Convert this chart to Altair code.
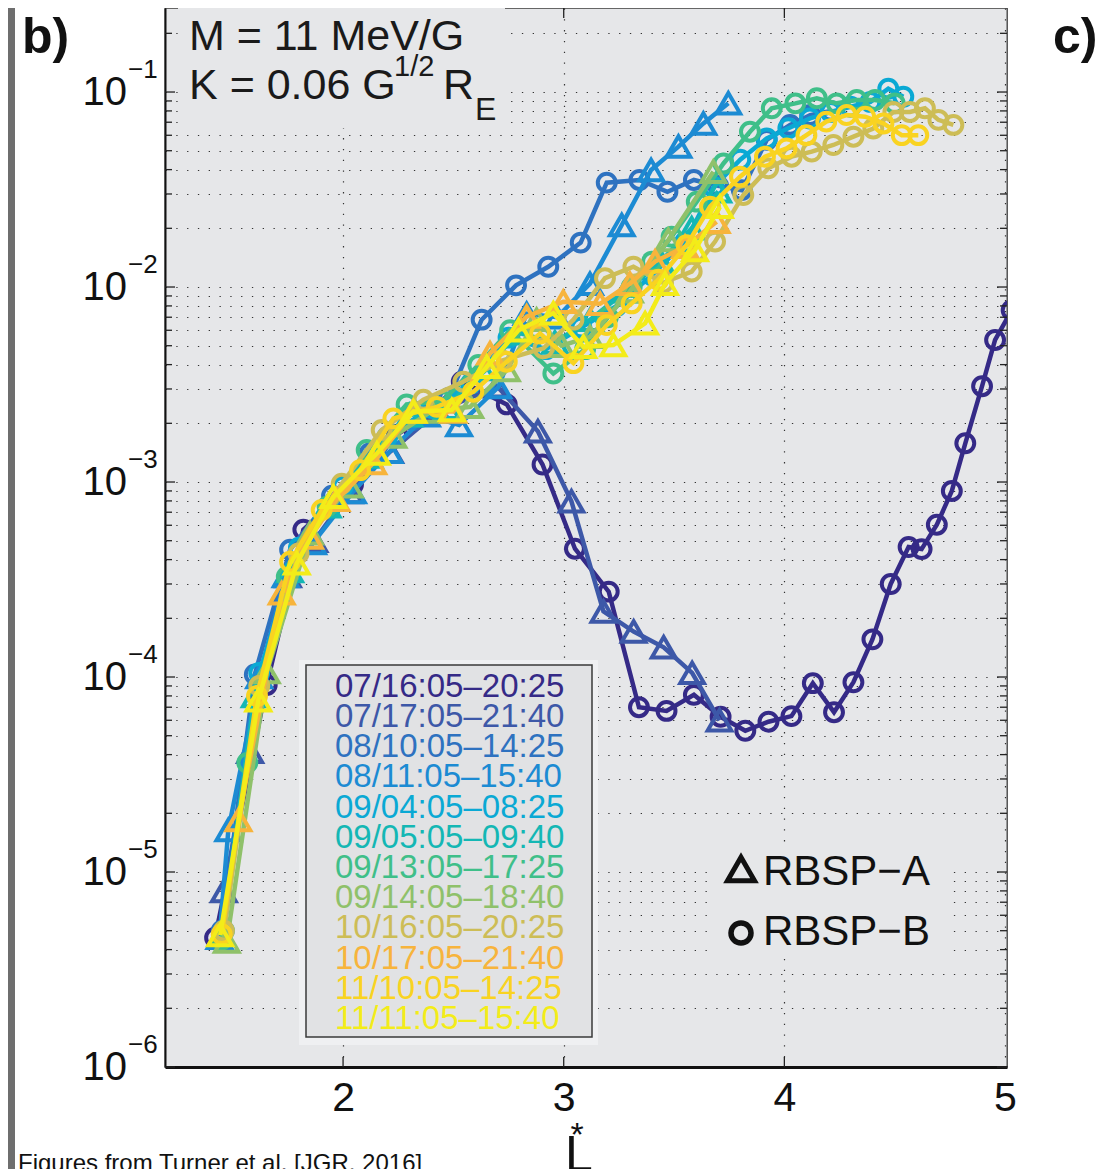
import altair as alt
import pandas as pd

# ------------------------------------------------------------------ data
series_labels = ["07/16:05–20:25", "07/17:05–21:40", "08/10:05–14:25", "08/11:05–15:40",
                 "09/04:05–08:25", "09/05:05–09:40", "09/13:05–17:25", "09/14:05–18:40",
                 "10/16:05–20:25", "10/17:05–21:40", "11/10:05–14:25", "11/11:05–15:40"]
series_colors = ["#352a87", "#3d58a8", "#2e72c0", "#1c8bd3", "#0aa9d4", "#14b7b4",
                 "#3fbf89", "#8fc16a", "#cdbd56", "#f7b43c", "#f9d321", "#f3ec19"]
spacecraft = ["B", "A", "B", "A", "B", "A", "B", "A", "B", "A", "B", "A"]

L_0716 = [1.42, 1.654, 1.82, 2.045, 2.245, 2.40, 2.538, 2.742, 2.904, 3.051, 3.204, 3.341, 3.466,
          3.59, 3.711, 3.823, 3.928, 4.032, 4.129, 4.225, 4.313, 4.399, 4.482, 4.563, 4.622, 4.691,
          4.759, 4.82, 4.896, 4.955, 5.03]
psd_0716 = [4.6e-6, 9.1e-5, 5.7e-4, 9.7e-4, 1.75e-3, 2.3e-3, 3.27e-3, 2.5e-3, 1.23e-3, 4.55e-4,
            2.74e-4, 7.0e-5, 6.7e-5, 8.1e-5, 6.25e-5, 5.3e-5, 5.9e-5, 6.3e-5, 9.3e-5, 6.6e-5,
            9.4e-5, 1.56e-4, 3.0e-4, 4.64e-4, 4.53e-4, 6.04e-4, 9.0e-4, 1.58e-3, 3.1e-3, 5.35e-3, 7.6e-3]

L_0717 = [1.46, 1.579, 1.75, 1.87, 2.03, 2.213, 2.43, 2.698, 2.883, 3.035, 3.18, 3.317, 3.453, 3.582, 3.706]
psd_0717 = [8e-6, 4.14e-5, 3.3e-4, 5.0e-4, 8.9e-4, 1.43e-3, 2.3e-3, 3.1e-3, 1.82e-3, 7.96e-4,
            2.17e-4, 1.71e-4, 1.42e-4, 1.05e-4, 6.0e-5]

L_0810 = [1.45, 1.60, 1.76, 1.95, 2.12, 2.317, 2.48, 2.628, 2.784, 2.93, 3.077, 3.195, 3.343, 3.47,
          3.59, 3.70, 3.807, 3.92, 4.026, 4.117, 4.21]
psd_0810 = [5e-6, 1.03e-4, 4.5e-4, 8.5e-4, 1.4e-3, 2.08e-3, 2.7e-3, 6.8e-3, 1.02e-2, 1.27e-2,
            1.69e-2, 3.43e-2, 3.54e-2, 3.08e-2, 3.54e-2, 3.3e-2, 3.14e-2, 5.68e-2, 6.78e-2, 7.62e-2, 8.0e-2]

L_0811 = [1.44, 1.48, 1.62, 1.74, 1.864, 2.045, 2.21, 2.38, 2.526, 2.704, 2.832, 2.97, 3.119, 3.263,
          3.396, 3.52, 3.633, 3.746]
psd_0811 = [4.6e-6, 1.64e-5, 1.0e-4, 3.3e-4, 4.87e-4, 8.9e-4, 1.43e-3, 2.2e-3, 1.96e-3, 3.07e-3,
            7.3e-3, 7.0e-3, 1.04e-2, 2.08e-2, 3.98e-2, 5.25e-2, 6.9e-2, 8.75e-2]

L_0904 = [1.46, 1.62, 1.80, 2.0, 2.2, 2.4, 2.58, 2.75, 2.92, 3.08, 3.24, 3.40, 3.55, 3.68, 3.80,
          3.92, 4.018, 4.116, 4.21, 4.30, 4.39, 4.471, 4.539]
psd_0904 = [5e-6, 1.05e-4, 4.6e-4, 9.5e-4, 1.7e-3, 2.4e-3, 3.2e-3, 5.5e-3, 4.8e-3, 6.2e-3, 8.0e-3,
            1.15e-2, 1.7e-2, 3.26e-2, 4.5e-2, 5.78e-2, 6.52e-2, 7.32e-2, 7.9e-2, 8.4e-2, 8.9e-2, 0.104, 0.0946]

L_0905 = [1.45, 1.60, 1.76, 1.93, 2.12, 2.30, 2.47, 2.63, 2.80, 2.96, 3.12, 3.28, 3.44, 3.58, 3.70]
psd_0905 = [4.8e-6, 8e-5, 3.5e-4, 7.5e-4, 1.35e-3, 2.2e-3, 2.4e-3, 3.8e-3, 5.8e-3, 5.2e-3, 6.8e-3,
            9.5e-3, 1.35e-2, 2.0e-2, 3.1e-2]

L_0913 = [1.45, 1.566, 1.745, 1.93, 2.107, 2.288, 2.45, 2.613, 2.757, 2.953, 3.097, 3.2, 3.308, 3.40,
          3.489, 3.603, 3.724, 3.844, 3.943, 4.05, 4.147, 4.237, 4.328, 4.411, 4.50]
psd_0913 = [4.5e-6, 3.63e-5, 3.27e-4, 7.5e-4, 1.46e-3, 2.5e-3, 2.6e-3, 3.98e-3, 6.0e-3, 3.6e-3,
            4.8e-3, 7.0e-3, 1.0e-2, 1.35e-2, 1.81e-2, 2.74e-2, 4.3e-2, 6.26e-2, 8.25e-2, 8.75e-2,
            9.29e-2, 8.75e-2, 9.1e-2, 9.1e-2, 8.75e-2]

L_0914 = [1.473, 1.654, 1.85, 2.03, 2.228, 2.40, 2.576, 2.742, 2.877, 2.99, 3.119, 3.30, 3.474, 3.678]
psd_0914 = [4.4e-6, 1.06e-4, 5.46e-4, 9.5e-4, 1.71e-3, 2.3e-3, 2.43e-3, 3.75e-3, 6.8e-3, 5.0e-3,
            5.55e-3, 9.5e-3, 1.74e-2, 3.9e-2]

L_1016 = [1.46, 1.62, 1.798, 1.994, 2.175, 2.364, 2.545, 2.72, 2.908, 3.044, 3.187, 3.316, 3.45,
          3.58, 3.686, 3.814, 3.927, 4.033, 4.124, 4.222, 4.313, 4.403, 4.494, 4.569, 4.637, 4.698, 4.766]
psd_1016 = [5e-6, 9e-5, 4.3e-4, 9.8e-4, 1.85e-3, 2.64e-3, 3.27e-3, 4.2e-3, 4.85e-3, 6.8e-3, 1.11e-2,
            1.27e-2, 1.05e-2, 1.2e-2, 1.71e-2, 2.96e-2, 4.06e-2, 4.66e-2, 4.95e-2, 5.35e-2, 5.9e-2,
            6.5e-2, 7.9e-2, 7.9e-2, 8.25e-2, 7.2e-2, 6.78e-2]

L_1017 = [1.526, 1.722, 1.85, 1.97, 2.137, 2.317, 2.5, 2.666, 2.832, 2.998, 3.165, 3.30, 3.414, 3.55, 3.693]
psd_1017 = [1.85e-5, 2.69e-4, 5.2e-4, 8.1e-4, 1.25e-3, 2.3e-3, 2.3e-3, 4.57e-3, 7.05e-3, 8.4e-3,
            8.2e-3, 1.04e-2, 1.35e-2, 1.61e-2, 2.16e-2]

L_1110 = [1.45, 1.61, 1.76, 1.903, 2.077, 2.228, 2.425, 2.59, 2.742, 2.893, 3.044, 3.195, 3.308,
          3.429, 3.557, 3.663, 3.799, 3.912, 4.01, 4.10, 4.19, 4.282, 4.366, 4.449, 4.532, 4.607]
psd_1110 = [4.8e-6, 8e-5, 3.9e-4, 7.18e-4, 1.15e-3, 2.12e-3, 2.43e-3, 2.9e-3, 4.14e-3, 5.78e-3,
            4.07e-3, 6.38e-3, 8.24e-3, 1.09e-2, 1.64e-2, 2.58e-2, 3.68e-2, 4.66e-2, 5.14e-2, 6.01e-2,
            7.05e-2, 7.62e-2, 7.47e-2, 6.9e-2, 6.01e-2, 6.01e-2]

L_1111 = [1.443, 1.616, 1.79, 1.956, 2.153, 2.319, 2.493, 2.651, 2.795, 2.953, 3.089, 3.225, 3.369,
          3.459, 3.595, 3.708]
psd_1111 = [4.75e-6, 7.6e-5, 3.83e-4, 8.4e-4, 1.4e-3, 2.3e-3, 2.34e-3, 3.9e-3, 6.0e-3, 7.33e-3,
            4.94e-3, 5.04e-3, 6.52e-3, 1.04e-2, 1.55e-2, 2.58e-2]

L_lists = [L_0716, L_0717, L_0810, L_0811, L_0904, L_0905, L_0913, L_0914, L_1016, L_1017, L_1110, L_1111]
psd_lists = [psd_0716, psd_0717, psd_0810, psd_0811, psd_0904, psd_0905, psd_0913, psd_0914,
             psd_1016, psd_1017, psd_1110, psd_1111]

y_exponents = [-1, -2, -3, -4, -5, -6]
x_ticks = [2, 3, 4, 5]
probe_labels = ["RBSP−A", "RBSP−B"]

# ------------------------------------------------------------------ layout
W, H = 842, 1059
FONT = "Liberation Sans"
DOT = [1.3, 9.5]

rows = []
for i, (Ls, ps) in enumerate(zip(L_lists, psd_lists)):
    for L, p in zip(Ls, ps):
        rows.append({"series": series_labels[i], "L": L, "psd": p})
df = pd.DataFrame(rows)

ymax = 0.2697
grid_vals = [m * 10.0 ** e for e in range(-6, 0) for m in range(1, 10) if m * 10.0 ** e <= ymax]
major_vals = [10.0 ** e for e in y_exponents]
minor_vals = [v for v in grid_vals if all(abs(v - mv) / mv > 1e-6 for mv in major_vals)]

xscale = alt.Scale(domain=[1.193, 5.009], nice=False, zero=False)
yscale = alt.Scale(type="log", domain=[1e-6, ymax], nice=False)
xaxis = alt.Axis(values=x_ticks, grid=True, gridColor="#333", gridDash=DOT, gridWidth=1.2,
                 ticks=False, labelFontSize=41, labelFont=FONT, labelColor="#111",
                 labelPadding=11, labelFlush=False, labelOverlap=False,
                 domainColor="#111", domainWidth=3, title=None)
yaxis = alt.Axis(values=grid_vals, grid=True, gridColor="#333", gridDash=DOT, gridWidth=1.2,
                 ticks=False, labels=False, domainColor="#111", domainWidth=2, title=None)
X = alt.X("L:Q", scale=xscale, axis=xaxis)
Y = alt.Y("psd:Q", scale=yscale, axis=yaxis)

layers = []
for i, name in enumerate(series_labels):
    sub = alt.Chart(df).transform_filter(alt.datum.series == name)
    col = series_colors[i]
    layers.append(sub.mark_line(color=col, strokeWidth=4.5, clip=True).encode(x=X, y=Y))
    if spacecraft[i] == "A":
        pts = sub.mark_point(shape="triangle-up", filled=False, color=col, size=560,
                             strokeWidth=4, opacity=1, clip=True)
    else:
        pts = sub.mark_point(shape="circle", filled=False, color=col, size=320,
                             strokeWidth=4, opacity=1, clip=True)
    layers.append(pts.encode(x=X, y=Y))

# inward ticks
df_major = pd.DataFrame({"psd": major_vals})
df_minor = pd.DataFrame({"psd": minor_vals})
df_xt = pd.DataFrame({"L": x_ticks[:-1]})
tick = dict(color="#222", strokeWidth=1.3)
layers += [
    alt.Chart(df_major).mark_rule(**tick).encode(y=Y, x=alt.value(0), x2=alt.value(10)),
    alt.Chart(df_major).mark_rule(**tick).encode(y=Y, x=alt.value(W), x2=alt.value(W - 10)),
    alt.Chart(df_minor).mark_rule(**tick).encode(y=Y, x=alt.value(0), x2=alt.value(7)),
    alt.Chart(df_minor).mark_rule(**tick).encode(y=Y, x=alt.value(W), x2=alt.value(W - 7)),
    alt.Chart(df_xt).mark_rule(**tick).encode(x=X, y=alt.value(H), y2=alt.value(H - 10)),
    alt.Chart(df_xt).mark_rule(**tick).encode(x=X, y=alt.value(0), y2=alt.value(10)),
]

# y tick labels 10^k
df_ylab = pd.DataFrame({"psd": major_vals, "base": ["10"] * len(major_vals),
                        "exp": ["−%d" % (-e) for e in y_exponents]})
layers += [
    alt.Chart(df_ylab).mark_text(align="right", baseline="middle", font=FONT, fontSize=40,
                                 color="#111", dy=1).encode(x=alt.value(-38), y=Y, text="base:N"),
    alt.Chart(df_ylab).mark_text(align="left", baseline="middle", font=FONT, fontSize=26,
                                 color="#111", dy=-22).encode(x=alt.value(-37), y=Y, text="exp:N"),
]

one = pd.DataFrame({"k": [0]})
def box(x1, x2, y1, y2, **kw):
    return alt.Chart(one).mark_rect(**kw).encode(
        x=alt.value(x1), x2=alt.value(x2), y=alt.value(y1), y2=alt.value(y2))

def label(txt, x, y, size, **kw):
    return alt.Chart(pd.DataFrame({"t": [txt]})).mark_text(
        font=FONT, fontSize=size, align=kw.pop("align", "left"),
        baseline=kw.pop("baseline", "alphabetic"), **kw).encode(
        x=alt.value(x), y=alt.value(y), text="t:N")

# annotation box with M and K
layers += [
    box(13, 340, 0, 120, fill="#e6e7e9"),
    label("M = 11 MeV/G", 24, 42, 43, color="#1a1a1a"),
    label("K = 0.06 G", 24, 91, 43, color="#1a1a1a"),
    label("1/2", 229, 68, 29, color="#1a1a1a"),
    label("R", 278, 91, 43, color="#1a1a1a"),
    label("E", 310, 112, 32, color="#1a1a1a"),
]

# dates legend
df_leg = pd.DataFrame({"label": series_labels, "idx": list(range(len(series_labels)))})
layers += [
    box(134, 433, 652, 1037, fill="#eff0f2"),
    box(141, 427, 657, 1029, fill="#e1e2e4", stroke="#3a3a3a", strokeWidth=1.5),
    alt.Chart(df_leg).transform_calculate(ly="678.7 + 30.2 * datum.idx").mark_text(
        align="left", baseline="middle", font=FONT, fontSize=33).encode(
        x=alt.value(170), y=alt.Y("ly:Q", scale=None, axis=None), text="label:N",
        color=alt.Color("label:N", scale=alt.Scale(domain=series_labels, range=series_colors),
                        legend=None)),
]

# spacecraft legend
layers += [
    box(548, 782, 842, 943, fill="#e6e7e9"),
    alt.Chart(one).mark_point(shape="triangle-up", filled=False, color="#111", size=730,
                              strokeWidth=5, opacity=1).encode(x=alt.value(576), y=alt.value(861)),
    alt.Chart(one).mark_point(shape="circle", filled=False, color="#111", size=400,
                              strokeWidth=5.5, opacity=1).encode(x=alt.value(576), y=alt.value(925)),
    label(probe_labels[0], 598, 864, 42, baseline="middle", color="#111"),
    label(probe_labels[1], 598, 924, 42, baseline="middle", color="#111"),
]

# panel letters, axis title, caption, side bar
layers += [
    box(-157, -150, 0, H + 110, fill="#6e6e6e"),
    label("b)", -143, 45, 50, fontWeight="bold", color="#111"),
    label("c)", 888, 45, 50, fontWeight="bold", color="#111"),
    label("L", 414, 1163, 50, align="center", color="#111"),
    label("*", 412, 1138, 34, align="center", color="#111"),
    label("Figures from Turner et al. [JGR, 2016]", -147, 1163, 24, color="#111"),
]

chart = alt.layer(*layers).properties(
    width=W, height=H,
    autosize=alt.AutoSizeParams(type="none"),
    padding={"left": 157, "top": 0, "right": 89, "bottom": 102},
    background="white",
).configure_view(fill="#e6e7e9", stroke="#3a3a3a", strokeWidth=1.3)

chart.save("out.html", embed_options={"renderer": "svg", "actions": False})
